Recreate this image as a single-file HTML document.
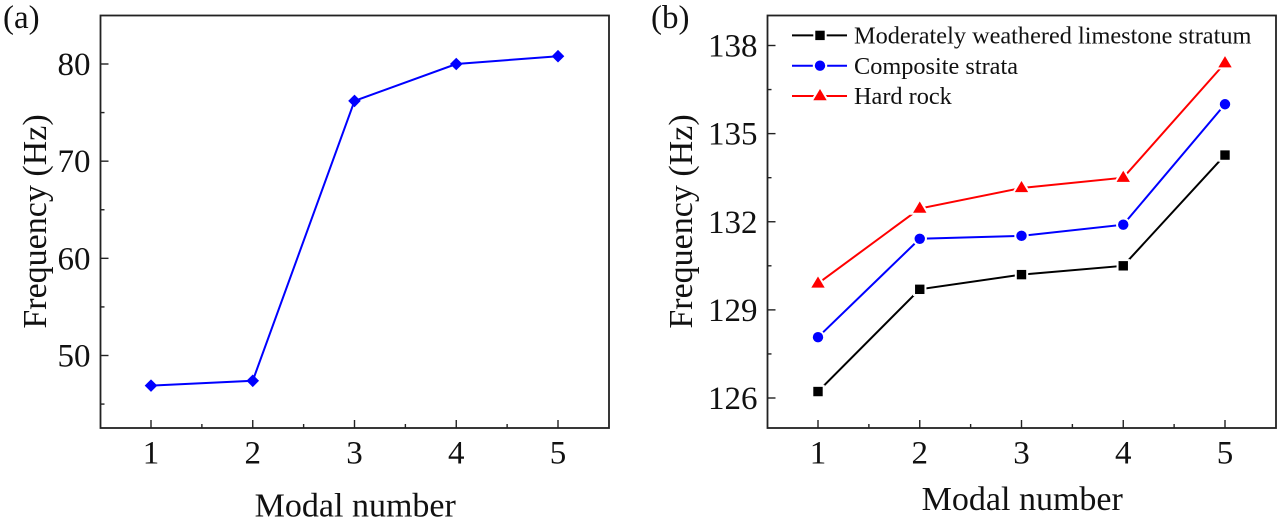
<!DOCTYPE html>
<html>
<head>
<meta charset="utf-8">
<title>Frequency vs modal number</title>
<style>
html,body{margin:0;padding:0;background:#fff;}
svg{display:block;}
text{font-family:"Liberation Serif",serif;fill:#111;}
</style>
</head>
<body>
<svg id="chart" xmlns="http://www.w3.org/2000/svg" width="1280" height="521" viewBox="0 0 1280 521">
<rect width="1280" height="521" fill="#fff"/>
</svg>
<script>
const categories = [1, 2, 3, 4, 5];
const minorCategories = [1.5, 2.5, 3.5, 4.5];
const panelAValues = [46.9, 47.4, 76.2, 80.0, 80.8];
const panelATicks = [50, 60, 70, 80];
const panelAMinorTicks = [45, 55, 65, 75];
const limestoneValues = [126.22, 129.7, 130.2, 130.5, 134.27];
const compositeValues = [128.07, 131.42, 131.52, 131.9, 136.0];
const hardRockValues = [129.9, 132.45, 133.15, 133.5, 137.4];
const panelBTicks = [126, 129, 132, 135, 138];
const panelBMinorTicks = [127.5, 130.5, 133.5, 136.5];
const legendLabels = ['Moderately weathered limestone stratum', 'Composite strata', 'Hard rock'];

const NS = 'http://www.w3.org/2000/svg';
const root = document.getElementById('chart');

function make(tag, attrs, parent, content) {
  const el = document.createElementNS(NS, tag);
  for (const k in attrs) el.setAttribute(k, attrs[k]);
  if (content !== undefined) el.textContent = content;
  (parent || root).appendChild(el);
  return el;
}

function linear(d0, d1, r0, r1) {
  return v => r0 + (v - d0) * (r1 - r0) / (d1 - d0);
}

function marker(kind, cx, cy, color, parent, halo) {
  let el;
  if (kind === 'diamond') {
    const r = 6.3;
    el = make('polygon', {points: `${cx},${cy - r} ${cx + r},${cy} ${cx},${cy + r} ${cx - r},${cy}`, fill: color}, parent);
  } else if (kind === 'square') {
    el = make('rect', {x: cx - 4.7, y: cy - 4.7, width: 9.4, height: 9.4, fill: color}, parent);
  } else if (kind === 'circle') {
    el = make('circle', {cx: cx, cy: cy, r: 5.2, fill: color}, parent);
  } else {
    el = make('polygon', {points: `${cx},${cy - 7} ${cx + 6.7},${cy + 4.2} ${cx - 6.7},${cy + 4.2}`, fill: color}, parent);
  }
  if (halo) {
    el.setAttribute('stroke', '#fff');
    el.setAttribute('stroke-width', '4');
    el.setAttribute('paint-order', 'stroke');
  }
  return el;
}

function drawAxes(p) {
  const g = make('g', {});
  
  

  const frame = make('rect', {x: p.left, y: p.top, width: p.right - p.left, height: p.bottom - p.top, fill: 'none', stroke: '#222', 'stroke-width': 1.8}, g);
  
  

  categories.forEach(c => {
    const x = p.xs(c);
    const tick = make('line', {x1: x, x2: x, y1: p.bottom, y2: p.bottom - 8, stroke: '#222', 'stroke-width': 1.4}, g);
    
    
    const label = make('text', {x: x, y: p.bottom + 35.5, 'text-anchor': 'middle', 'font-size': 33}, g, String(c));
    
    
  });
  minorCategories.forEach(c => {
    const x = p.xs(c);
    const tick = make('line', {x1: x, x2: x, y1: p.bottom, y2: p.bottom - 4, stroke: '#222', 'stroke-width': 1.4}, g);
    
    
  });
  p.ticks.forEach(t => {
    const y = p.ys(t);
    const tick = make('line', {x1: p.left, x2: p.left + 8, y1: y, y2: y, stroke: '#222', 'stroke-width': 1.4}, g);
    
    
    const label = make('text', {x: p.left - 10, y: y + 11, 'text-anchor': 'end', 'font-size': 33}, g, String(t));
    
    
  });
  p.minorTicks.forEach(t => {
    const y = p.ys(t);
    const tick = make('line', {x1: p.left, x2: p.left + 4, y1: y, y2: y, stroke: '#222', 'stroke-width': 1.4}, g);
    
    
  });

  const xTitle = make('text', {x: (p.left + p.right) / 2 + 0.5, y: p.xTitleY, 'text-anchor': 'middle', 'font-size': 34}, g, 'Modal number');
  
  
  const yTitle = make('text', {x: 0, y: 0, 'text-anchor': 'middle', 'font-size': 34, transform: `translate(${p.yTitleX},${p.yTitleY}) rotate(-90)`}, g, 'Frequency (Hz)');
  
  
  const tag = make('text', {x: p.tagX, y: 28, 'font-size': 33}, g, p.tag);
  
  
}

function drawSeries(p, name, values, color, kind, halo) {
  const g = make('g', {});
  
  
  const pts = values.map((v, i) => p.xs(categories[i]) + ',' + p.ys(v)).join(' ');
  const line = make('polyline', {points: pts, fill: 'none', stroke: color, 'stroke-width': 2}, g);
  
  
  values.forEach((v, i) => {
    const m = marker(kind, p.xs(categories[i]), p.ys(v), color, g, halo);
    
    
  });
}

const panelA = {
  name: 'panel-a', tag: '(a)', tagX: 3, left: 100.5, right: 609, top: 15.5, bottom: 428,
  yTitleX: 46, yTitleY: 221.5, xTitleY: 516.5,
  ticks: panelATicks, minorTicks: panelAMinorTicks,
  xs: linear(1, 5, 151, 558), ys: linear(50, 80, 355.5, 64)
};
const panelB = {
  name: 'panel-b', tag: '(b)', tagX: 651, left: 767.5, right: 1276, top: 15.5, bottom: 428,
  yTitleX: 692, yTitleY: 221.5, xTitleY: 510,
  ticks: panelBTicks, minorTicks: panelBMinorTicks,
  xs: linear(1, 5, 818, 1225), ys: linear(126, 138, 398, 45.5)
};

drawAxes(panelA);
drawSeries(panelA, 'panel-a-frequency', panelAValues, '#0000ff', 'diamond', false);

drawAxes(panelB);
drawSeries(panelB, 'limestone', limestoneValues, '#000000', 'square', true);
drawSeries(panelB, 'composite', compositeValues, '#0000ff', 'circle', true);
drawSeries(panelB, 'hard-rock', hardRockValues, '#ff0000', 'triangle', true);

const legendColors = ['#000000', '#0000ff', '#ff0000'];
const legendKinds = ['square', 'circle', 'triangle'];
const legend = make('g', {});


legendLabels.forEach((label, i) => {
  const y = 35.4 + i * 30.3;
  const entry = make('g', {}, legend);
  
  
  make('line', {x1: 792, x2: 847, y1: y, y2: y, stroke: legendColors[i], 'stroke-width': 2}, entry);
  marker(legendKinds[i], 820, y, legendColors[i], entry, true);
  make('text', {x: 854, y: y + 8.2, 'font-size': 24.3}, entry, label);
});
</script>
</body>
</html>
